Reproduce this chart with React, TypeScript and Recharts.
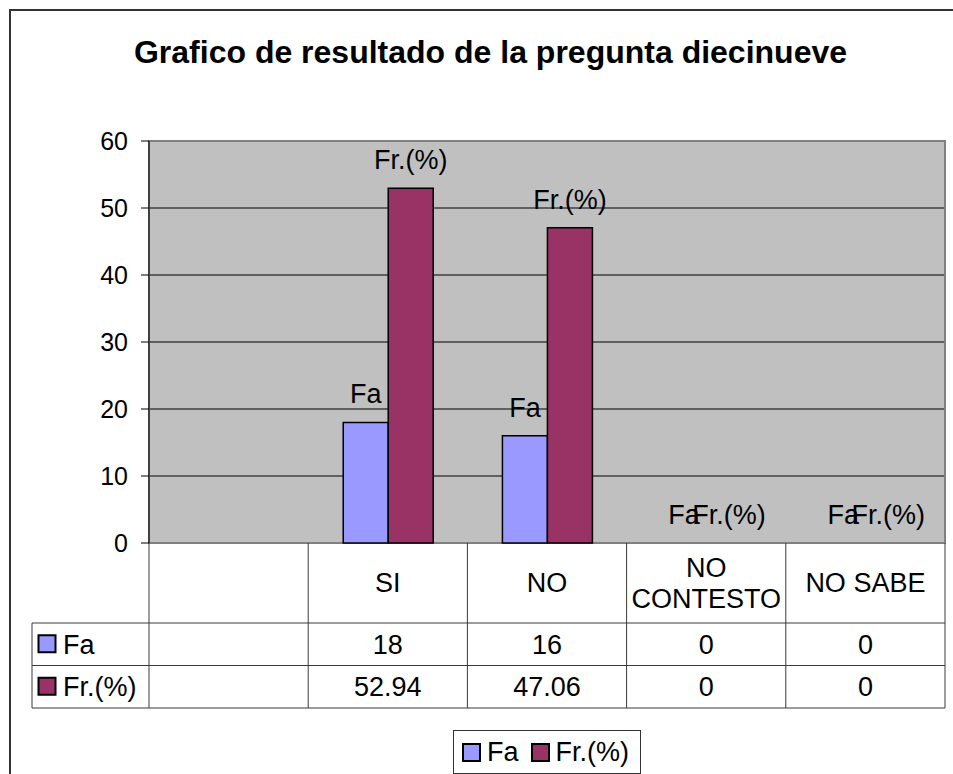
import React from 'react';
import {
  BarChart,
  Bar,
  XAxis,
  YAxis,
  CartesianGrid,
  ReferenceArea,
  LabelList,
  Legend,
  Rectangle,
} from 'recharts';

const categories = ['', 'SI', 'NO', 'NO CONTESTO', 'NO SABE'];
const faValues: (number | null)[] = [null, 18, 16, 0, 0];
const frValues: (number | null)[] = [null, 52.94, 47.06, 0, 0];
const seriesNames = ['Fa', 'Fr.(%)'];
const seriesColors = ['#9999FF', '#993366'];
const yTicks = [0, 10, 20, 30, 40, 50, 60];

const FONT = '"Liberation Sans", Arial, sans-serif';
const TXT = 27;

// layout of the sheet (page pixels)
const W = 953;
const H = 774;
const PLOT_LEFT = 149;
const PLOT_RIGHT = 945;
const PLOT_TOP = 141;
const PLOT_BOTTOM = 543;
const TABLE_LEFT = 32;
const HEADER_H = 80;
const ROW_H = 42.5;
const TABLE_H = HEADER_H + ROW_H * 2;
const BAND = (PLOT_RIGHT - PLOT_LEFT) / categories.length;
const LINE_H = 31.5;

const data = categories.map((cat, i) => ({
  cat,
  fa: faValues[i],
  fr: frValues[i],
}));

const rowValues = [faValues, frValues];

const fmt = (v: number | null) => (v == null ? '' : String(v));

// rough wrap of a header label to the cell width
const wrapLabel = (s: string) => {
  if (s.length * 0.65 * TXT <= BAND - 6) return [s];
  return s.split(' ');
};

// x axis drawn as the Excel data table
const TableTick = (props: any) => {
  const { x, y, payload, index } = props;
  const left = x - BAND / 2;
  const right = x + BAND / 2;
  const lineColor = '#3a3a3a';
  const rowY = [y + HEADER_H, y + HEADER_H + ROW_H, y + TABLE_H];
  const lines = wrapLabel(String(payload.value ?? ''));
  const firstY = y + HEADER_H / 2 - ((lines.length - 1) * LINE_H) / 2;
  return (
    <g>
      {index === 0 && (
        <g>
          <line x1={left} x2={left} y1={y} y2={y + TABLE_H} stroke={lineColor} />
          <line x1={TABLE_LEFT} x2={TABLE_LEFT} y1={rowY[0]} y2={rowY[2]} stroke={lineColor} />
          {rowY.map((ry, k) => (
            <line key={k} x1={TABLE_LEFT} x2={PLOT_RIGHT} y1={ry} y2={ry} stroke={lineColor} />
          ))}
          {seriesNames.map((name, k) => {
            const cy = rowY[k] + ROW_H / 2;
            return (
              <g key={name}>
                <rect x={TABLE_LEFT + 6.5} y={cy - 9} width={17} height={17} fill={seriesColors[k]} stroke="#000" strokeWidth={2} />
                <text x={TABLE_LEFT + 31} y={cy} dy="0.35em" fontFamily={FONT} fontSize={TXT} fill="#000">
                  {name}
                </text>
              </g>
            );
          })}
        </g>
      )}
      <line x1={right} x2={right} y1={y} y2={y + TABLE_H} stroke={lineColor} />
      {lines.map((ln, k) => (
        <text
          key={k}
          x={x}
          y={firstY + k * LINE_H}
          dy="0.35em"
          textAnchor="middle"
          fontFamily={FONT}
          fontSize={TXT}
          fill="#000"
        >
          {ln}
        </text>
      ))}
      {rowValues.map((vals, k) => (
        <text
          key={k}
          x={x}
          y={rowY[k] + ROW_H / 2}
          dy="0.35em"
          textAnchor="middle"
          fontFamily={FONT}
          fontSize={TXT}
          fill="#000"
        >
          {fmt(vals[index])}
        </text>
      ))}
    </g>
  );
};

const barLabel = (name: string) => (props: any) => {
  const { x, y, width, height, value } = props;
  if (value == null) return null;
  // zero bars get a tiny min size; anchor their label on the baseline
  const top = Number(value) === 0 ? y + height : y;
  return (
    <text x={x + width / 2} y={top - 19} textAnchor="middle" fontFamily={FONT} fontSize={TXT} fill="#000">
      {name}
    </text>
  );
};

// hide the tiny placeholder rect drawn for zero values
const BarShape = (props: any) => {
  if (!props.height || Math.abs(props.height) < 0.5) return <g />;
  return <Rectangle {...props} />;
};

const LegendBox = (props: any) => {
  const { payload = [] } = props;
  return (
    <div
      style={{
        width: 188,
        height: 44,
        boxSizing: 'border-box',
        border: '1px solid #333',
        display: 'flex',
        alignItems: 'center',
        paddingLeft: 8,
        fontFamily: FONT,
        fontSize: TXT,
        color: '#000',
        background: '#fff',
      }}
    >
      {payload.map((p: any, i: number) => (
        <span key={p.value} style={{ display: 'flex', alignItems: 'center', marginRight: i === 0 ? 12 : 0 }}>
          <span
            style={{
              display: 'inline-block',
              width: 15,
              height: 15,
              border: '2px solid #000',
              background: p.color,
              marginRight: 6,
            }}
          />
          {p.value}
        </span>
      ))}
    </div>
  );
};

export default function App() {
  return (
    <div
      style={{
        position: 'fixed',
        left: 0,
        top: 0,
        width: W,
        height: H,
        overflow: 'hidden',
        background: '#fff',
      }}
    >
      <div
        style={{
          position: 'absolute',
          left: 9,
          top: 9,
          width: 1200,
          height: 1200,
          borderTop: '2px solid #333',
          borderLeft: '2px solid #333',
        }}
      />
      <div
        style={{
          position: 'absolute',
          left: 0,
          top: 36,
          width: 981,
          textAlign: 'center',
          fontFamily: FONT,
          fontWeight: 'bold',
          fontSize: 32,
          lineHeight: '32px',
          color: '#000',
        }}
      >
        Grafico de resultado de la pregunta diecinueve
      </div>
      <div style={{ position: 'absolute', left: 0, top: 0 }}>
        <BarChart
          width={W}
          height={H}
          data={data}
          margin={{ top: PLOT_TOP, right: W - PLOT_RIGHT, left: PLOT_LEFT - 60, bottom: H - PLOT_BOTTOM - TABLE_H }}
          barCategoryGap="22%"
          barGap={0}
        >
          <CartesianGrid vertical={false} stroke="#000" fill="#C0C0C0" />
          <ReferenceArea y1={0} y2={60} fillOpacity={0} stroke="#808080" strokeWidth={2} />
          <XAxis
            dataKey="cat"
            type="category"
            interval={0}
            height={TABLE_H}
            axisLine={false}
            tickLine={false}
            tickSize={0}
            tickMargin={0}
            tick={<TableTick />}
          />
          <YAxis
            width={60}
            domain={[0, 60]}
            ticks={yTicks}
            interval={0}
            axisLine={{ stroke: '#000' }}
            tickLine={{ stroke: '#000' }}
            tickSize={8}
            tickMargin={13}
            tick={{ fill: '#000', fontSize: 25, fontFamily: FONT }}
          />
          <Legend
            layout="horizontal"
            verticalAlign="middle"
            align="center"
            content={<LegendBox />}
            wrapperStyle={{ left: 453, top: 730, width: 188, height: 44 }}
          />
          <Bar
            dataKey="fa"
            name={seriesNames[0]}
            fill={seriesColors[0]}
            stroke="#000"
            strokeWidth={1.5}
            minPointSize={0.1}
            shape={<BarShape />}
            isAnimationActive={false}
          >
            <LabelList dataKey="fa" content={barLabel(seriesNames[0])} />
          </Bar>
          <Bar
            dataKey="fr"
            name={seriesNames[1]}
            fill={seriesColors[1]}
            stroke="#000"
            strokeWidth={1.5}
            minPointSize={0.1}
            shape={<BarShape />}
            isAnimationActive={false}
          >
            <LabelList dataKey="fr" content={barLabel(seriesNames[1])} />
          </Bar>
        </BarChart>
      </div>
    </div>
  );
}
